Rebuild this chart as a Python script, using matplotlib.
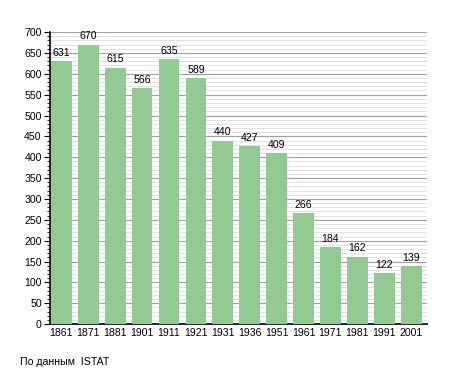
import matplotlib
matplotlib.use('Agg')
import matplotlib.pyplot as plt
from matplotlib.ticker import MultipleLocator

plt.rcParams['font.family'] = ['Liberation Sans', 'DejaVu Sans']

# Data
years = ['1861', '1871', '1881', '1901', '1911', '1921', '1931',
         '1936', '1951', '1961', '1971', '1981', '1991', '2001']
population = [631, 670, 615, 566, 635, 589, 440, 427, 409, 266, 184, 162, 122, 139]

fig = plt.figure(figsize=(4.55, 3.73), dpi=100)
ax = fig.add_axes([0.110, 0.131, 0.828, 0.783])

x = range(len(years))
bars = ax.bar(x, population, width=0.77, color='#93ca93', zorder=3)

for i, v in zip(x, population):
    ax.text(i, v + 8, str(v), ha='center', va='bottom', fontsize=7.6, zorder=4)

ax.set_xlim(-0.42, len(years) - 0.42)
ax.set_ylim(0, 700)
ax.set_xticks(list(x))
ax.set_xticklabels(years)
ax.yaxis.set_major_locator(MultipleLocator(50))
ax.yaxis.set_minor_locator(MultipleLocator(10))

# grid
ax.grid(True, axis='y', which='major', color='#a0a0a0', lw=0.8, zorder=0)
ax.grid(True, axis='y', which='minor', color='#dedede', lw=0.6, zorder=0)
ax.set_axisbelow(True)

for s in ['top', 'right']:
    ax.spines[s].set_visible(False)
ax.spines['left'].set_linewidth(1.2)
ax.spines['bottom'].set_linewidth(1.2)

ax.tick_params(axis='x', length=0, labelsize=7.6, pad=3)
ax.tick_params(axis='y', which='major', length=4, labelsize=7.6, pad=2)
ax.tick_params(axis='y', which='minor', length=2)

fig.text(0.044, 0.03, 'По данным  ISTAT', fontsize=7.6, ha='left', va='center')

fig.savefig('out.png', dpi=100)
